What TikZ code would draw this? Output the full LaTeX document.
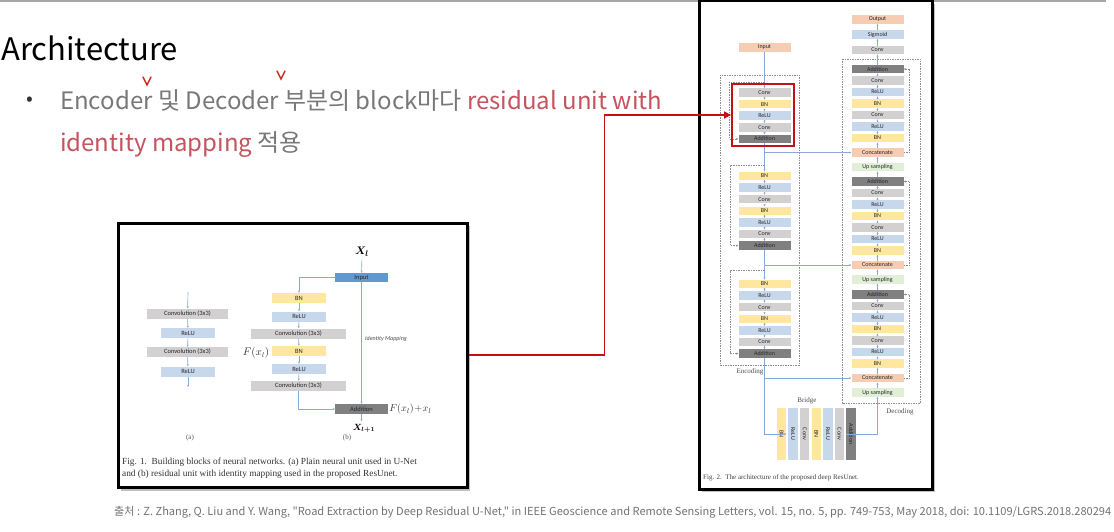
\documentclass[tikz,border=0pt]{standalone}
\usepackage{amsmath}
\usepackage{fontspec}
\setmainfont{Liberation Serif}
\newfontfamily\kofont{Noto Sans CJK KR}
\newfontfamily\boxfont{Carlito}
\usetikzlibrary{arrows.meta, calc, positioning}

\definecolor{slidegray}{RGB}{120,120,120}
\definecolor{slidered}{RGB}{196,84,96}
\definecolor{markred}{RGB}{200,45,35}
\definecolor{arrowred}{RGB}{192,20,20}
\definecolor{convgray}{RGB}{210,208,208}
\definecolor{relublue}{RGB}{200,216,236}
\definecolor{bnyellow}{RGB}{255,231,160}
\definecolor{addgray}{RGB}{128,128,128}
\definecolor{iopeach}{RGB}{246,205,178}
\definecolor{upgreen}{RGB}{224,239,214}
\definecolor{inblue}{RGB}{96,152,210}
\definecolor{linkblue}{RGB}{140,168,214}

\tikzset{
  layer/.style={inner sep=0pt, minimum width=52pt, minimum height=8.5pt,
    font=\boxfont\fontsize{6}{6}\selectfont, text=black!85},
  layerA/.style={inner sep=0pt, minimum height=10pt,
    font=\boxfont\fontsize{6.5}{6.5}\selectfont, text=black!85},
  barlayer/.style={inner sep=0pt, minimum width=52pt, minimum height=9.5pt, rotate=-90,
    font=\boxfont\fontsize{6}{6}\selectfont, text=black!85},
  flow/.style={draw=linkblue, line width=.6pt, -{Stealth[length=2.2pt,width=2pt]}},
  skiplink/.style={draw=black!45, line width=.5pt, dash pattern=on 1.5pt off 1pt,
    -{Stealth[length=2.2pt,width=2pt]}},
  groupbox/.style={draw=black!45, line width=.5pt, dash pattern=on 1.5pt off 1pt},
  figframe/.style={draw=black, fill=white, line width=3pt, inner sep=0pt},
  redbox/.style={draw=arrowred, line width=1.8pt, inner sep=0pt, minimum width=62pt, minimum height=62pt},
  redarrow/.style={draw=arrowred, line width=1.6pt, -{Triangle[length=7pt,width=7pt]}},
  figlabel/.style={font=\fontsize{7}{8}\selectfont, text=black!70},
}

\begin{document}
\begin{tikzpicture}[x=1pt, y=-1pt]
  \useasboundingbox (0,0) rectangle (1114,532);
  \fill[white] (0,0) rectangle (1114,532);
  \draw[black!35, line width=1.5pt] (0,1) -- (1106,1);

  % slide text
  \node[anchor=base west, inner sep=0pt, font=\kofont\fontsize{31}{31}\selectfont] (title) at (1,61) {Architecture};
  \node[inner sep=0pt, font=\kofont\fontsize{20}{20}\selectfont, text=black!80] (dot) at (30,101) {•};
  \node[anchor=base west, inner sep=0pt, font=\kofont\fontsize{24}{24}\selectfont] (line1) at (60,110)
    {\color{slidegray}Encoder 및 Decoder 부분의 block마다 \color{slidered}residual unit with};
  \node[anchor=base west, inner sep=0pt, font=\kofont\fontsize{24}{24}\selectfont] (line2) at (60,152)
    {\color{slidered}identity mapping \color{slidegray}적용};
  \draw[markred, line width=1.4pt, line cap=round] (143,77) -- (147,85) -- (151,77);
  \draw[markred, line width=1.4pt, line cap=round] (277,71) -- (281,79) -- (285,71);

  % figure 1
  \fill[black!25] (121,226) rectangle (470,491);
  \node[figframe, minimum width=349pt, minimum height=264pt] (fig1frame) at (292.5,355) {};

  \node[layerA, minimum width=81pt, fill=convgray] (a1) at (187.5,313.5) {Convolution (3x3)};
  \node[layerA, minimum width=54pt, fill=relublue] (a2) at (188,333) {ReLU};
  \node[layerA, minimum width=81pt, fill=convgray] (a3) at (187.5,352) {Convolution (3x3)};
  \node[layerA, minimum width=54pt, fill=relublue] (a4) at (188,371.5) {ReLU};
  \coordinate (ain) at (188,292);
  \coordinate (aout) at (188,387);
  \draw[flow] (ain) -- (a1);
  \draw[flow] (a1) -- (a2);
  \draw[flow] (a2) -- (a3);
  \draw[flow] (a3) -- (a4);
  \draw[flow] (a4) -- (aout);
  \node[figlabel] (alab) at (190,438) {(a)};

  \node[layerA, minimum width=53pt, minimum height=9pt, fill=inblue] (bin) at (361.5,277.5) {Input};
  \node[layerA, minimum width=54pt, fill=bnyellow] (b1) at (299,298) {BN};
  \node[layerA, minimum width=54pt, fill=relublue] (b2) at (299,316.5) {ReLU};
  \node[layerA, minimum width=95pt, fill=convgray] (b3) at (298.5,333.5) {Convolution (3x3)};
  \node[layerA, minimum width=54pt, fill=bnyellow] (b4) at (299,351) {BN};
  \node[layerA, minimum width=54pt, fill=relublue] (b5) at (299,369) {ReLU};
  \node[layerA, minimum width=95pt, fill=convgray] (b6) at (298.5,386) {Convolution (3x3)};
  \node[layerA, minimum width=53pt, fill=addgray] (badd) at (361.5,409) {Addition};
  \node[font=\fontsize{11}{11}\selectfont] (xl) at (362,252) {$\boldsymbol{X_l}$};
  \node[font=\fontsize{9}{9}\selectfont] (xnext) at (364,429) {$\boldsymbol{X_{l+1}}$};
  \draw[flow] (xl) -- (bin);
  \draw[flow] (bin.west) -| (b1.north);
  \foreach \i in {2,...,6}{
    \pgfmathtruncatemacro\prev{\i-1}
    \draw[flow] (b\prev) -- (b\i);
  }
  \draw[flow] (b6.south) |- (badd.west);
  \draw[flow] (bin) -- (badd);
  \draw[flow] (badd.south) -- (badd.south |- xnext.north);
  \node[anchor=west, inner sep=0pt, font=\boxfont\itshape\fontsize{6}{6}\selectfont, text=black!70] (idmap) at (365,339) {Identity Mapping};
  \node[font=\fontsize{10.5}{10.5}\selectfont, text=black!80] (fx) at (256,353) {$F(x_l)$};
  \node[anchor=west, inner sep=1pt, font=\fontsize{10}{10}\selectfont, text=black!80] (fsum) at (badd.east) {$F(x_l)\!+\!x_l$};
  \node[figlabel] (blab) at (347,438) {(b)};
  \node[anchor=north west, inner sep=0pt, align=left, font=\fontsize{9.3}{12}\selectfont, text=black!80] (cap1) at (122,458)
    {Fig. 1.\ \ Building blocks of neural networks. (a) Plain neural unit used in U-Net\\
     and (b) residual unit with identity mapping used in the proposed ResUnet.};

  % figure 2
  \fill[black!25] (702,4) rectangle (935,492);
  \node[figframe, minimum width=233pt, minimum height=488pt] (fig2frame) at (815.5,245) {};

  \draw[groupbox] (720,75) rectangle (799,365);
  \draw[groupbox] (842,59) rectangle (920,403);
  \node[figlabel] (enclab) at (750,372) {Encoding};
  \node[figlabel] (declab) at (900,412) {Decoding};
  \node[figlabel] (brlab) at (807,401) {Bridge};

  \node[layer, fill=iopeach] (input) at (764.5,47.5) {Input};
  \foreach \lbl/\col [count=\i from 0] in {Conv/convgray, BN/bnyellow, ReLU/relublue, Conv/convgray, Addition/addgray}
    \node[layer, fill=\col] (e1r\i) at (764.5,92.5+11.6*\i) {\lbl};
  \foreach \blk/\base in {2/176, 3/284}{
    \foreach \lbl/\col [count=\i from 0] in {BN/bnyellow, ReLU/relublue, Conv/convgray, BN/bnyellow, ReLU/relublue, Conv/convgray, Addition/addgray}
      \node[layer, fill=\col] (e\blk r\i) at (764.5,\base+11.6*\i) {\lbl};
  }

  \node[layer, fill=iopeach] (output) at (877.5,19.5) {Output};
  \node[layer, fill=relublue] (sigmoid) at (877.5,34.5) {Sigmoid};
  \node[layer, fill=convgray] (lastconv) at (877.5,50) {Conv};
  \foreach \blk/\base in {1/69, 2/181.5, 3/294.5}{
    \foreach \lbl/\col [count=\i from 0] in {Addition/addgray, Conv/convgray, ReLU/relublue, BN/bnyellow, Conv/convgray, ReLU/relublue, BN/bnyellow}
      \node[layer, fill=\col] (d\blk r\i) at (877.5,\base+11.5*\i) {\lbl};
    \node[layer, fill=iopeach] (d\blk cat) at (877.5,\base+83.5) {Concatenate};
    \node[layer, fill=upgreen] (d\blk up) at (877.5,\base+98) {Up sampling};
  }

  \foreach \lbl/\col [count=\i] in {BN/bnyellow, ReLU/relublue, Conv/convgray, BN/bnyellow, ReLU/relublue, Conv/convgray, Addition/addgray}
    \node[barlayer, fill=\col] (br\i) at (769.9+11.6*\i,434) {\lbl};

  % encoder links
  \draw[flow] (input) -- (e1r0);
  \foreach \i in {1,...,4}{
    \pgfmathtruncatemacro\prev{\i-1}
    \draw[flow] (e1r\prev) -- (e1r\i);
  }
  \foreach \blk in {2,3}{
    \foreach \i in {1,...,6}{
      \pgfmathtruncatemacro\prev{\i-1}
      \draw[flow] (e\blk r\prev) -- (e\blk r\i);
    }
  }
  \draw[flow] (e1r4) -- (e2r0);
  \draw[flow] (e2r6) -- (e3r0);
  \draw[flow] (e1r4.south |- d1cat.west) -- (d1cat.west);
  \draw[flow] (e2r6.south |- d2cat.west) -- (d2cat.west);
  \draw[flow] (e3r6.south |- d3cat.west) -- (d3cat.west);
  \draw[flow] (e3r6.south) |- (br1.north);
  \draw[flow] (br7.south) -| (d3up.south);

  \coordinate (e1tap) at (764.5,82);
  \coordinate (e2tap) at (764.5,165);
  \coordinate (e3tap) at (764.5,270);
  \draw[skiplink] (e1tap) -- ++(-35,0) |- (e1r4.west);
  \draw[skiplink] (e2tap) -- ++(-34,0) |- (e2r6.west);
  \draw[skiplink] (e3tap) -- ++(-34,0) |- (e3r6.west);

  % decoder links
  \foreach \blk in {1,2,3}{
    \foreach \i in {1,...,6}{
      \pgfmathtruncatemacro\prev{\i-1}
      \draw[flow] (d\blk r\i) -- (d\blk r\prev);
    }
    \draw[flow] (d\blk cat) -- (d\blk r6);
    \draw[flow] (d\blk up) -- (d\blk cat);
    \draw[skiplink] (d\blk cat.east) -- ++(6,0) |- (d\blk r0.east);
  }
  \draw[flow] (d3r0) -- (d2up);
  \draw[flow] (d2r0) -- (d1up);
  \draw[flow] (d1r0) -- (lastconv);
  \draw[flow] (lastconv) -- (sigmoid);
  \draw[flow] (sigmoid) -- (output);

  \node[anchor=base west, inner sep=0pt, font=\fontsize{7}{8}\selectfont, text=black!75] (cap2) at (703,479)
    {Fig. 2.\ \ The architecture of the proposed deep ResUnet.};

  % highlight
  \node[redbox] (hilite) at (763,115) {};
  \draw[redarrow] (fig1frame.east) -- ++(136,0) |- (hilite.west);

  % source
  \node[anchor=base west, inner sep=0pt, text=black!55] (source) at (114,515)
    {\resizebox{997pt}{!}{\kofont\fontsize{10}{12}\selectfont 출처 : Z. Zhang, Q. Liu and Y. Wang, "Road Extraction by Deep Residual U-Net," in IEEE Geoscience and Remote Sensing Letters, vol. 15, no. 5, pp. 749-753, May 2018, doi: 10.1109/LGRS.2018.280294}};
\end{tikzpicture}
\end{document}
